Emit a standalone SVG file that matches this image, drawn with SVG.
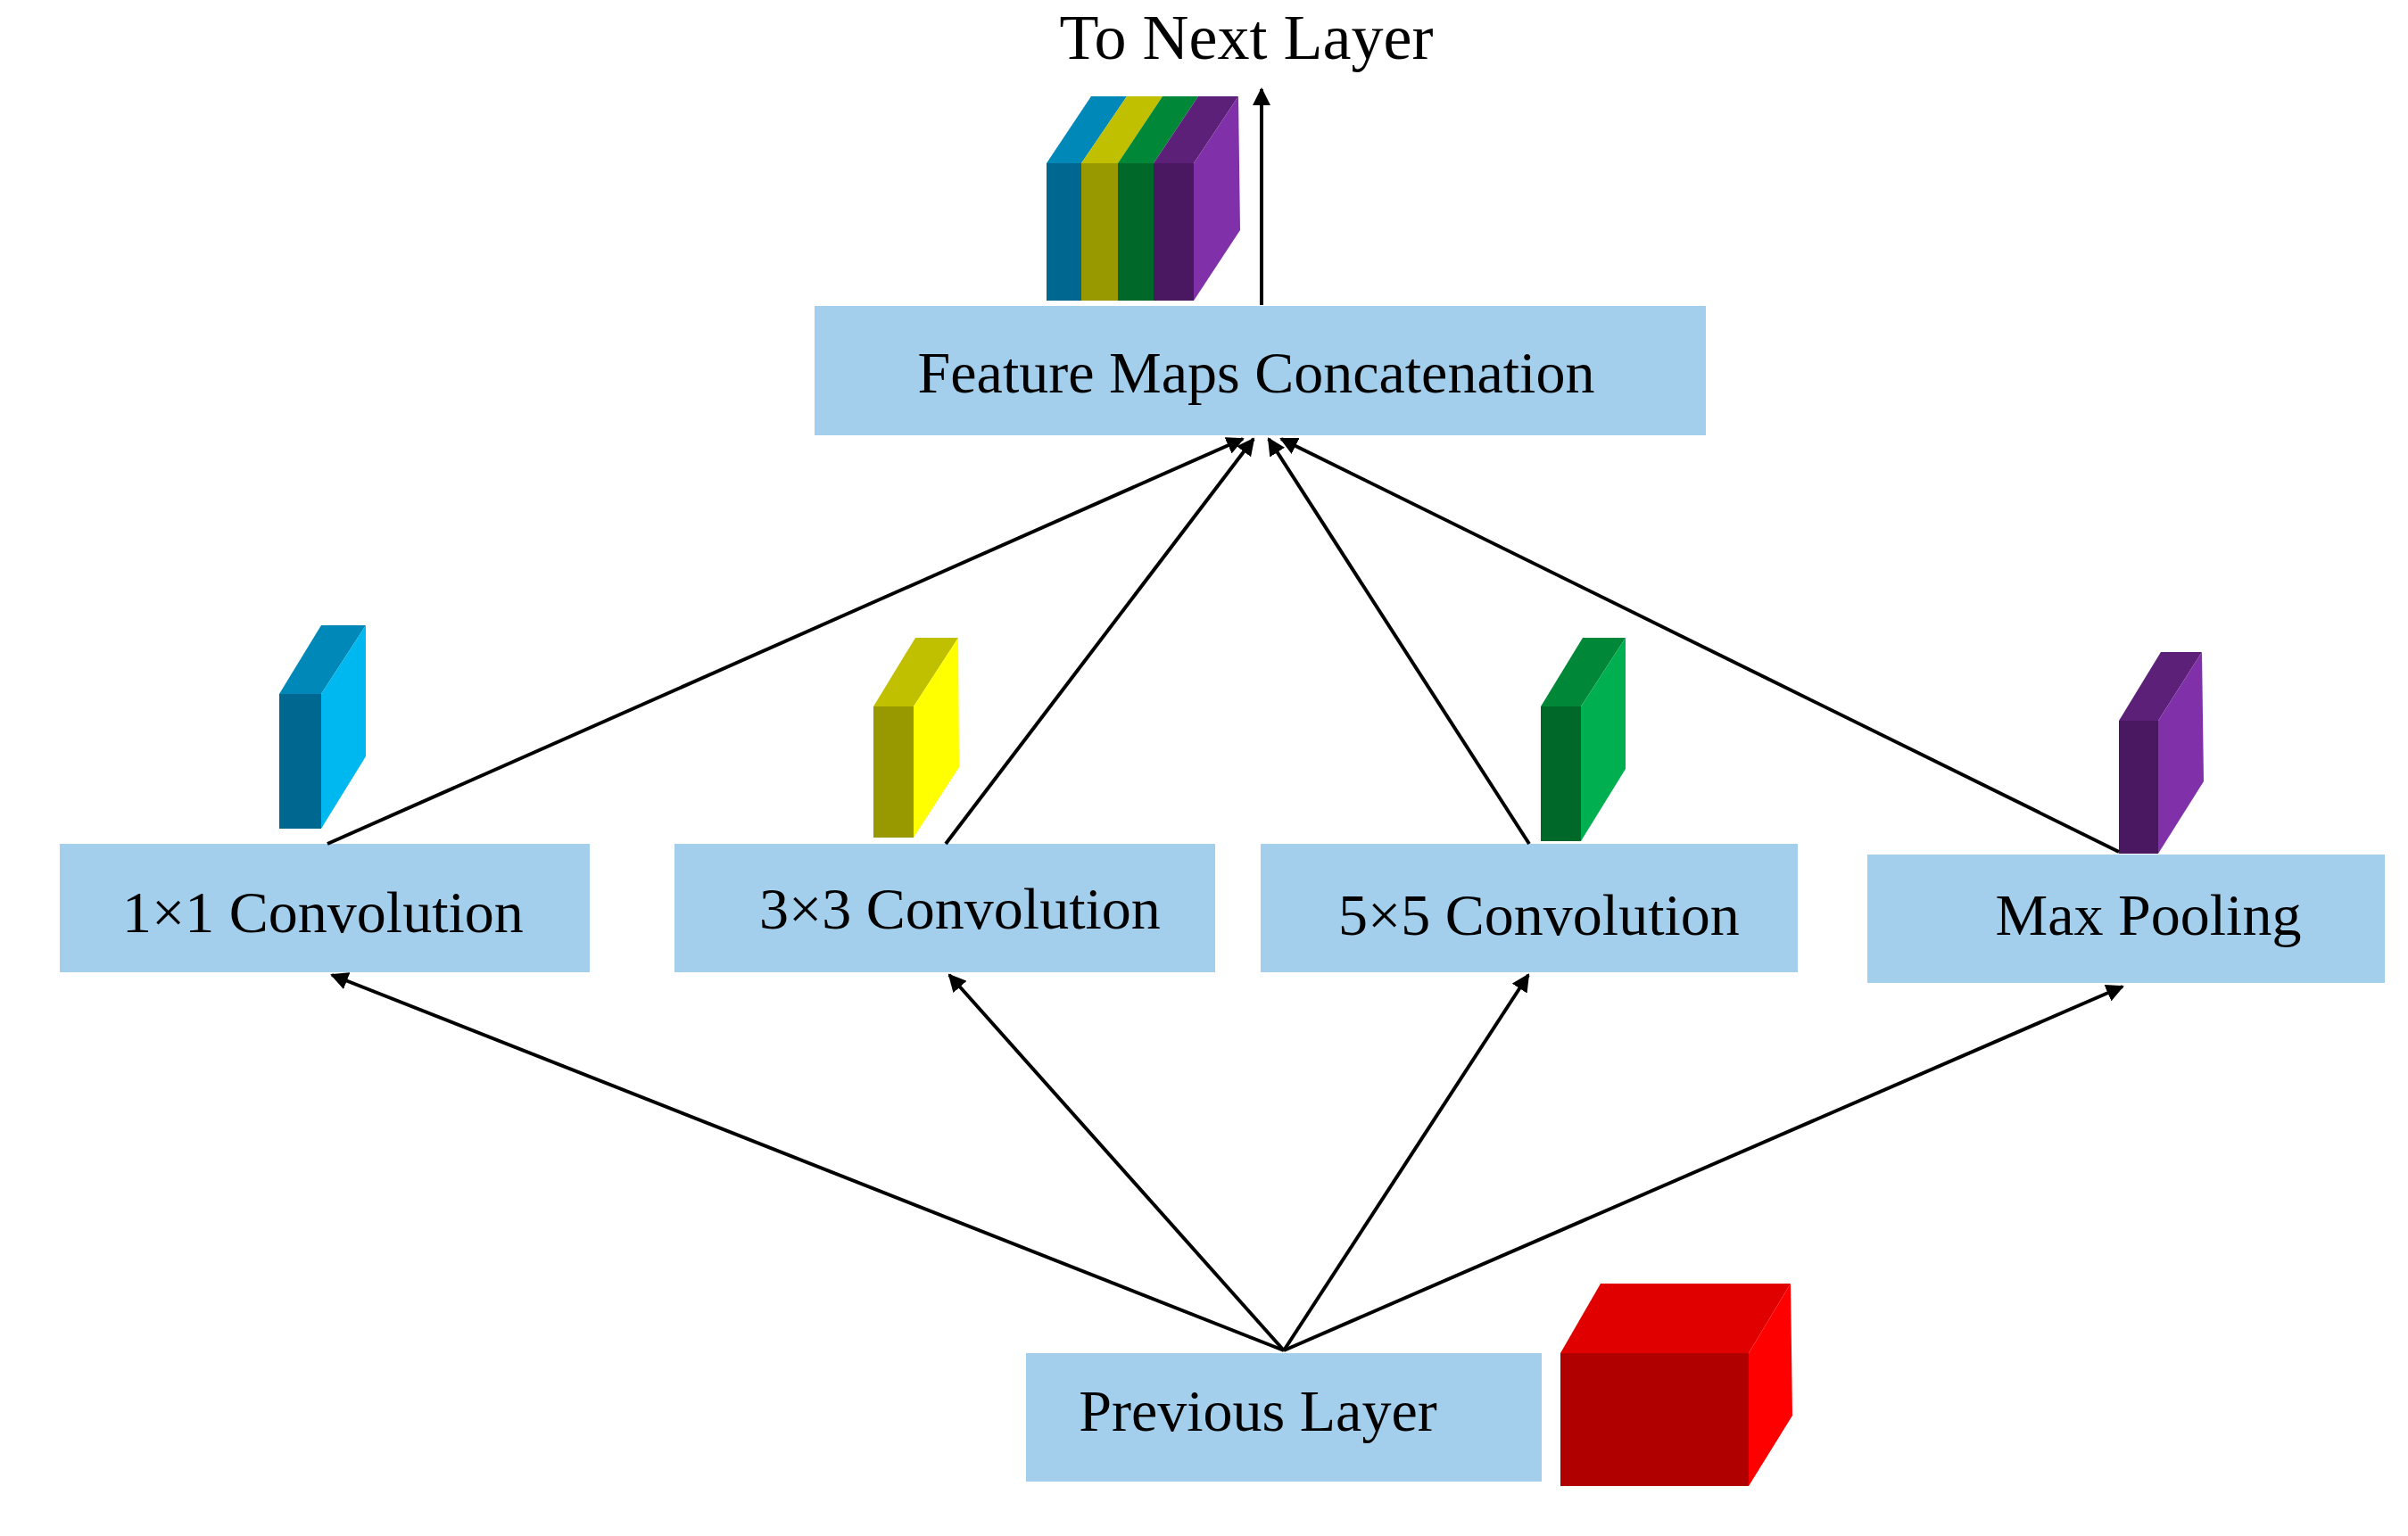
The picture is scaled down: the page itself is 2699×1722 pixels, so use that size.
<svg xmlns="http://www.w3.org/2000/svg" width="2699" height="1722" viewBox="0 0 2699 1722">
<style>
.box{fill:#a3cfec}
.t{font-family:"Liberation Serif",serif;font-size:66px;fill:#000;text-anchor:middle}
.c{stroke:#000;stroke-width:4;fill:none;marker-end:url(#ah)}
</style>
<defs>
<marker id="ah" viewBox="0 0 10 10" refX="9" refY="5" markerWidth="5" markerHeight="5" orient="auto" markerUnits="strokeWidth"><path d="M0,0L10,5L0,10z" fill="#000"/></marker>
</defs>
<rect width="2699" height="1722" fill="#fff"/>
<text class="t" x="1397" y="66" style="font-size:72px">To Next Layer</text>
<g id="concat-stack">
<polygon points="1173,183 1223,108 1263,108 1212,183" fill="#0088b8"/>
<polygon points="1212,183 1263,108 1303,108 1253,183" fill="#c0c000"/>
<polygon points="1253,183 1303,108 1343,108 1293,183" fill="#008838"/>
<polygon points="1293,183 1343,108 1388,108 1338,183" fill="#5c2078"/>
<rect x="1173" y="183" width="39" height="154" fill="#006890"/>
<rect x="1212" y="183" width="41" height="154" fill="#989800"/>
<rect x="1253" y="183" width="40" height="154" fill="#006828"/>
<rect x="1293" y="183" width="45" height="154" fill="#4a1860"/>
<polygon points="1338,183 1388,108 1390,258 1338,337" fill="#8030a8"/>
</g>
<g id="concat"><rect class="box" x="913" y="343" width="999" height="145"/><text class="t" x="1408" y="440">Feature Maps Concatenation</text></g>
<g id="conv1"><rect class="box" x="67" y="946" width="594" height="144"/><text class="t" x="362" y="1045">1×1 Convolution</text>
<polygon points="313,778 360,701 410,701 360,778" fill="#0088b8"/><rect x="313" y="778" width="47" height="151" fill="#006890"/><polygon points="360,778 410,701 410,848 360,929" fill="#00b8f0"/></g>
<g id="conv3"><rect class="box" x="756" y="946" width="606" height="144"/><text class="t" x="1076" y="1041">3×3 Convolution</text>
<polygon points="979,792 1026,715 1074,715 1024,792" fill="#c0c000"/><rect x="979" y="792" width="45" height="147" fill="#989800"/><polygon points="1024,792 1074,715 1075,860 1024,939" fill="#ffff00"/></g>
<g id="conv5"><rect class="box" x="1413" y="946" width="602" height="144"/><text class="t" x="1725" y="1048">5×5 Convolution</text>
<polygon points="1727,792 1774,715 1822,715 1772,792" fill="#008838"/><rect x="1727" y="792" width="45" height="151" fill="#006828"/><polygon points="1772,792 1822,715 1822,862 1772,943" fill="#00b050"/></g>
<g id="maxpool"><rect class="box" x="2093" y="958" width="580" height="144"/><text class="t" x="2408" y="1048">Max Pooling</text>
<polygon points="2375,808 2422,731 2468,731 2419,808" fill="#5c2078"/><rect x="2375" y="808" width="44" height="149" fill="#4a1860"/><polygon points="2419,808 2468,731 2470,876 2419,957" fill="#8030a8"/></g>
<g id="prev"><rect class="box" x="1150" y="1517" width="578" height="144"/><text class="t" x="1410" y="1604">Previous Layer</text>
<polygon points="1749,1517 1794,1439 2007,1439 1960,1517" fill="#e00000"/><rect x="1749" y="1517" width="211" height="149" fill="#b00000"/><polygon points="1960,1517 2007,1439 2009,1587 1960,1666" fill="#ff0000"/></g>
<g id="connectors">
<line class="c" x1="1414" y1="342" x2="1414" y2="100"/>
<line class="c" x1="367" y1="946" x2="1393" y2="492"/>
<line class="c" x1="1060" y1="946" x2="1405" y2="492"/>
<line class="c" x1="1714" y1="946" x2="1422" y2="492"/>
<line class="c" x1="2375" y1="955" x2="1436" y2="492"/>
<line class="c" x1="1439" y1="1514" x2="372" y2="1093"/>
<line class="c" x1="1439" y1="1514" x2="1064" y2="1093"/>
<line class="c" x1="1439" y1="1514" x2="1713" y2="1093"/>
<line class="c" x1="1439" y1="1514" x2="2379" y2="1106"/>
</g>
</svg>
